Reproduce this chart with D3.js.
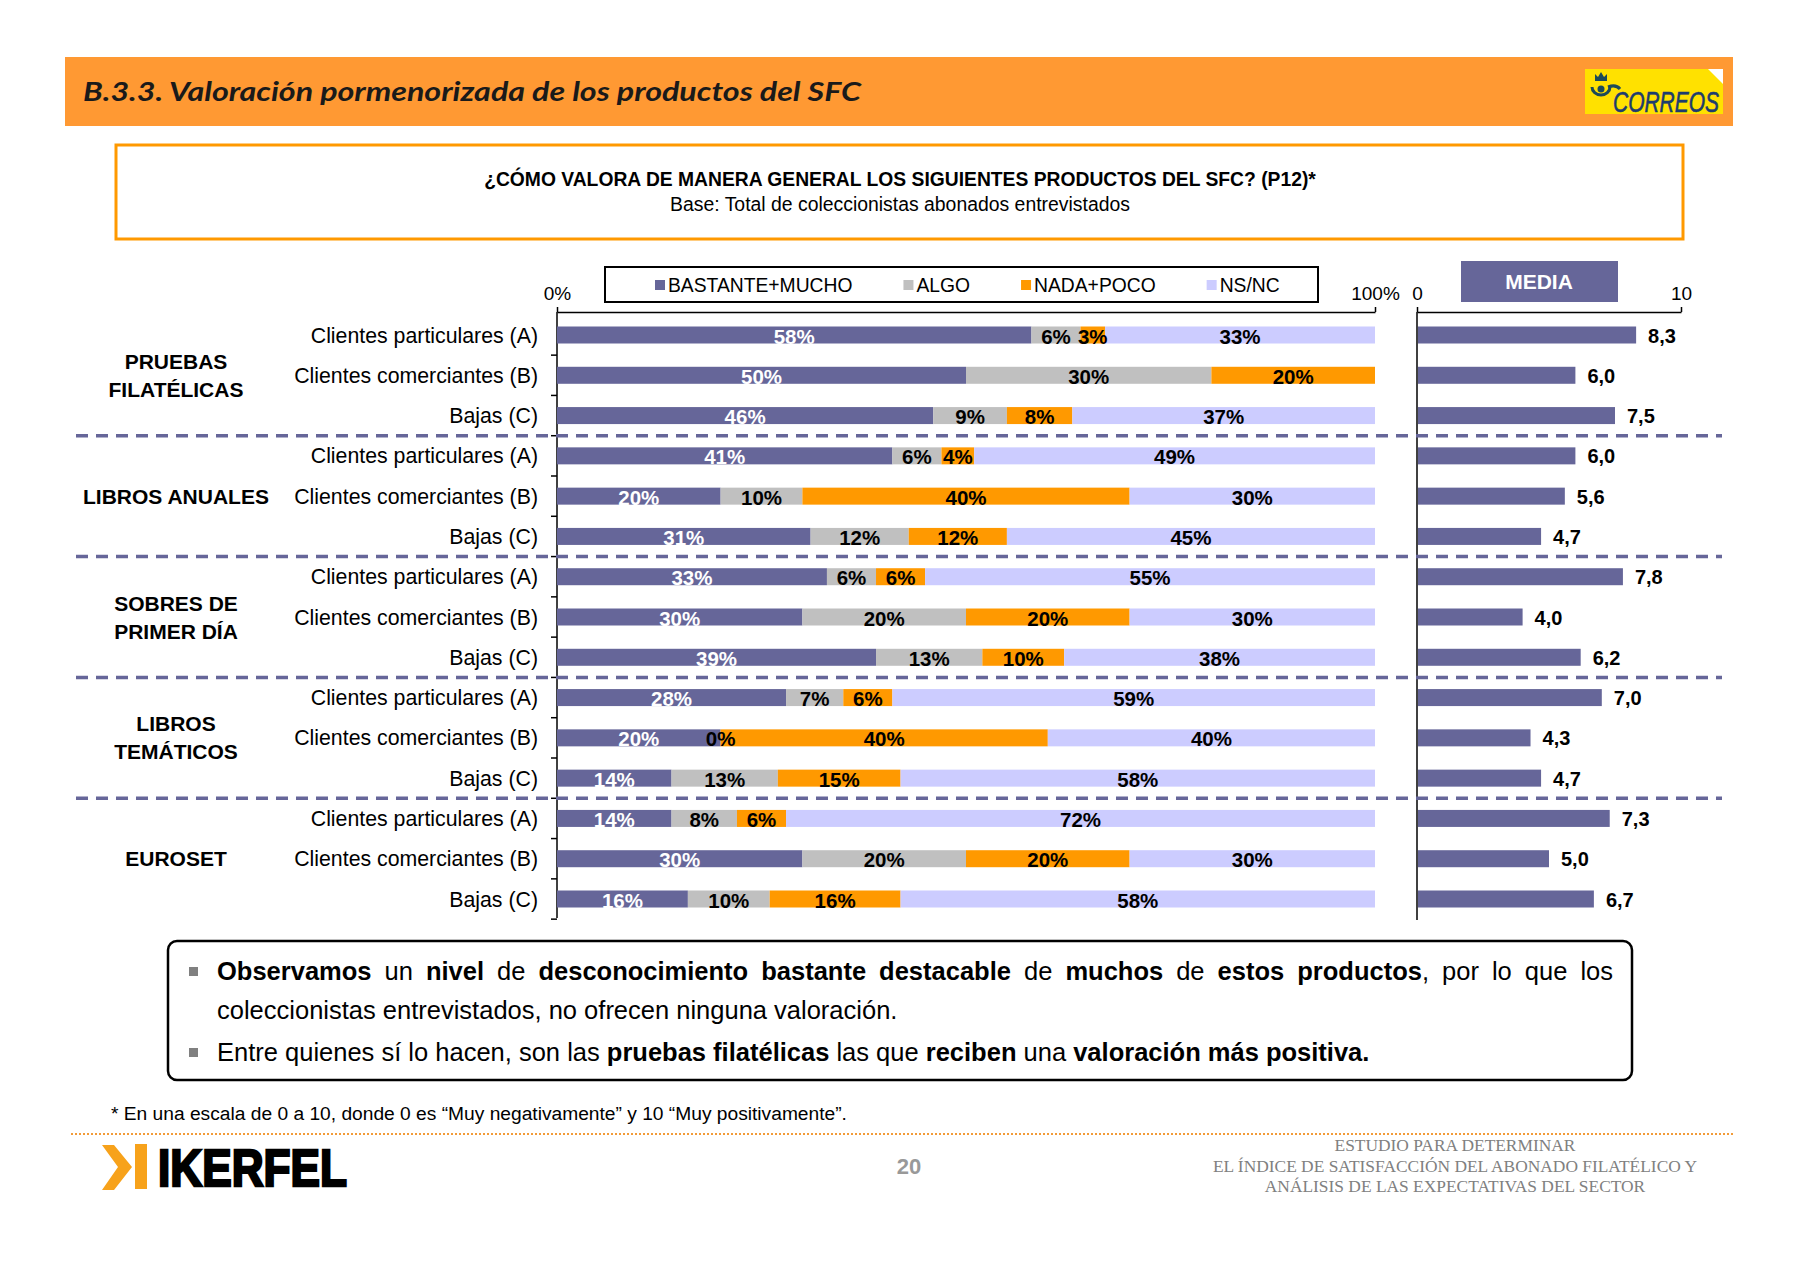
<!DOCTYPE html>
<html><head><meta charset="utf-8">
<script src="https://cdn.jsdelivr.net/npm/d3@7"></script>
<style>body{margin:0;background:#fff}svg{display:block}text{font-family:"Liberation Sans",Arial,sans-serif}</style>
</head><body><svg id="c" width="1800" height="1261"></svg>
<script>
// ---------- DATA ----------
const groupLines = [["PRUEBAS","FILATÉLICAS"],["LIBROS ANUALES"],["SOBRES DE","PRIMER DÍA"],["LIBROS","TEMÁTICOS"],["EUROSET"]];
const segments = ["Clientes particulares (A)","Clientes comerciantes (B)","Bajas (C)"];
const seriesNames = ["BASTANTE+MUCHO","ALGO","NADA+POCO","NS/NC"];
const bastanteMucho = [58,50,46,41,20,31,33,30,39,28,20,14,14,30,16];
const algo          = [ 6,30, 9, 6,10,12, 6,20,13, 7, 0,13, 8,20,10];
const nadaPoco      = [ 3,20, 8, 4,40,12, 6,20,10, 6,40,15, 6,20,16];
const nsnc          = [33, 0,37,49,30,45,55,30,38,59,40,58,72,30,58];
const media = [8.3,6.0,7.5,6.0,5.6,4.7,7.8,4.0,6.2,7.0,4.3,4.7,7.3,5.0,6.7];
const pctTicks = [0,100];
const mediaTicks = [0,10];
const colors = ["#666699","#C0C0C0","#FF9900","#CCCCFF"];

const svg = d3.select("#c");
const FONT = '"Liberation Sans",Arial,sans-serif';

// ---------- HEADER ----------
svg.append("rect").attr("x",65).attr("y",57).attr("width",1668).attr("height",69).attr("fill","#FF9933");
svg.append("text").attr("x",83).attr("y",101).attr("font-size",26).attr("font-weight","bold").attr("font-style","italic")
  .style("font-family","Lato,'DejaVu Sans',sans-serif").attr("fill","#1a1a1a")
  .attr("textLength",778).attr("lengthAdjust","spacingAndGlyphs")
  .text("B.3.3. Valoración pormenorizada de los productos del SFC");
// Correos logo
const cl = svg.append("g");
cl.append("rect").attr("x",1585).attr("y",69).attr("width",138).attr("height",45).attr("fill","#FFE100");
cl.append("path").attr("d","M1708,69 L1723,69 L1723,84 Z").attr("fill","#fff");
cl.append("path").attr("d","M1592,87 a9,8 0 1,0 18,0").attr("fill","none").attr("stroke","#1d4a5a").attr("stroke-width",3);
cl.append("circle").attr("cx",1601).attr("cy",89).attr("r",3.5).attr("fill","#1d4a5a");
cl.append("path").attr("d","M1595,81 L1595,74 L1598,77 L1601,72 L1604,77 L1607,74 L1607,81 Z").attr("fill","#1d4a5a");
cl.append("path").attr("d","M1608,87 q8,-3 12,2").attr("fill","none").attr("stroke","#1d4a5a").attr("stroke-width",3);
cl.append("text").attr("x",1613).attr("y",112).attr("font-size",29).attr("font-style","italic").attr("fill","#1d3c6e")
  .attr("stroke","#1d3c6e").attr("stroke-width",0.6)
  .attr("textLength",106).attr("lengthAdjust","spacingAndGlyphs").text("CORREOS");

// ---------- QUESTION BOX ----------
svg.append("rect").attr("x",116).attr("y",145).attr("width",1567).attr("height",94).attr("fill","#fff").attr("stroke","#FF9900").attr("stroke-width",3);
svg.append("text").attr("x",900).attr("y",186).attr("text-anchor","middle").attr("font-size",19.3).attr("font-weight","bold")
  .text("¿CÓMO VALORA DE MANERA GENERAL LOS SIGUIENTES PRODUCTOS DEL SFC? (P12)*");
svg.append("text").attr("x",900).attr("y",211).attr("text-anchor","middle").attr("font-size",19.4)
  .text("Base: Total de coleccionistas abonados entrevistados");

// ---------- SCALES ----------
const rows = [];
groupLines.forEach((g,gi)=>segments.forEach((s,si)=>rows.push({id:gi+"|"+si, g:gi, s:si, label:s})));
rows.forEach((r,i)=>{ r[seriesNames[0]]=bastanteMucho[i]; r[seriesNames[1]]=algo[i]; r[seriesNames[2]]=nadaPoco[i]; r[seriesNames[3]]=nsnc[i]; r.media=media[i]; });
const y = d3.scalePoint().domain(rows.map(r=>r.id)).range([335,899]);
const x = d3.scaleLinear().domain([0,100]).range([557,1375]);
const xm = d3.scaleLinear().domain([0,10]).range([1417,1681]);
const BH = 17;

// ---------- LEGEND ----------
svg.append("rect").attr("x",605).attr("y",267).attr("width",713).attr("height",35).attr("fill","#fff").attr("stroke","#000").attr("stroke-width",2);
let lx = 655;
seriesNames.forEach((n,i)=>{
  svg.append("rect").attr("x",lx).attr("y",280).attr("width",10).attr("height",10).attr("fill",colors[i]);
  const t = svg.append("text").attr("x",lx+13).attr("y",292).attr("font-size",19.3).text(n);
  lx += 13 + t.node().getComputedTextLength() + 51;
});

// MEDIA box
svg.append("rect").attr("x",1461).attr("y",261).attr("width",157).attr("height",41).attr("fill","#666699");
svg.append("text").attr("x",1539).attr("y",289).attr("text-anchor","middle").attr("font-size",21).attr("font-weight","bold").attr("fill","#fff").text("MEDIA");

// ---------- AXES ----------
const axTop = svg.append("g").attr("transform","translate(0,312)")
  .call(d3.axisTop(x).tickValues(pctTicks).tickFormat(d=>d+"%").tickSize(5).tickSizeOuter(0).tickPadding(7));
const axM = svg.append("g").attr("transform","translate(0,312)")
  .call(d3.axisTop(xm).tickValues(mediaTicks).tickFormat(d=>d).tickSize(5).tickSizeOuter(0).tickPadding(7));
[axTop,axM].forEach(a=>{ a.selectAll("text").attr("font-size",19).attr("fill","#000").style("font-family",FONT);
  a.select(".domain").attr("stroke","#000").attr("stroke-width",1.5); a.selectAll(".tick line").attr("stroke","#000").attr("stroke-width",1.5); });

// vertical axis lines
svg.append("line").attr("x1",557).attr("x2",557).attr("y1",312).attr("y2",918).attr("stroke","#000").attr("stroke-width",1.5);
svg.append("line").attr("x1",1417).attr("x2",1417).attr("y1",312).attr("y2",920).attr("stroke","#000").attr("stroke-width",1.5);
const ids = y.domain();
const bounds = ids.slice(1).map((id,i)=>(y(ids[i])+y(id))/2);
bounds.push(y(ids[ids.length-1])+y.step()/2);
svg.selectAll(".ytick").data(bounds).join("line").attr("x1",551).attr("x2",557).attr("y1",d=>d).attr("y2",d=>d).attr("stroke","#000").attr("stroke-width",1.5);

// ---------- STACKED BARS ----------
const stack = d3.stack().keys(seriesNames)(rows);
const gBars = svg.append("g");
stack.forEach((layer,li)=>{
  gBars.selectAll(null).data(layer).join("rect")
    .attr("x",d=>x(d[0])).attr("width",d=>x(d[1])-x(d[0]))
    .attr("y",d=>y(d.data.id)-BH/2).attr("height",BH).attr("fill",colors[li]);
});
stack.forEach((layer,li)=>{
  gBars.selectAll(null).data(layer.filter(d=>!(d[1]-d[0]===0 && d[1]===100))).join("text")
    .attr("x",d=>x((d[0]+d[1])/2)).attr("y",d=>y(d.data.id)+8.5)
    .attr("text-anchor","middle").attr("font-size",20.5).attr("font-weight","bold")
    .attr("fill",li===0?"#fff":"#000").text(d=>(d[1]-d[0])+"%");
});

// ---------- MEDIA BARS ----------
svg.selectAll(".mbar").data(rows).join("rect")
  .attr("x",xm(0)+1).attr("width",d=>xm(d.media)-xm(0)-1).attr("y",d=>y(d.id)-BH/2).attr("height",BH).attr("fill","#666699");
svg.selectAll(".mlab").data(rows).join("text")
  .attr("x",d=>xm(d.media)+12).attr("y",d=>y(d.id)+7.5).attr("font-size",20).attr("font-weight","bold")
  .text(d=>d3.format(".1f")(d.media).replace(".",","));

// ---------- ROW & GROUP LABELS ----------
svg.selectAll(".rlab").data(rows).join("text")
  .attr("x",538).attr("y",d=>y(d.id)+7.5).attr("text-anchor","end").attr("font-size",21.3).text(d=>d.label);
groupLines.forEach((lines,gi)=>{
  const cy = y(gi+"|1");
  const off = lines.length===1?[0]:[-14,14];
  lines.forEach((l,k)=>svg.append("text").attr("x",176).attr("y",cy+off[k]+7.5).attr("text-anchor","middle")
    .attr("font-size",21).attr("font-weight","bold").text(l));
});

// dashed separators
const seps = groupLines.slice(1).map((g,gi)=>(y(gi+"|2")+y((gi+1)+"|0"))/2);
svg.selectAll(".sep").data(seps).join("line").attr("x1",76).attr("x2",1722).attr("y1",d=>d).attr("y2",d=>d)
  .attr("stroke","#666699").attr("stroke-width",3.5).attr("stroke-dasharray","12,8");

// ---------- COMMENT BOX ----------
svg.append("rect").attr("x",168).attr("y",941).attr("width",1464).attr("height",139).attr("rx",9)
  .attr("fill","#fff").attr("stroke","#000").attr("stroke-width",2.5);
[971,1052].forEach(cy=>svg.append("rect").attr("x",189).attr("y",cy-4).attr("width",9).attr("height",9).attr("fill","#808080"));
const FS=25.5;
function mk(parts,yy){
  const t = svg.append("text").attr("y",yy).attr("font-size",FS).style("white-space","pre");
  parts.forEach(p=>t.append("tspan").attr("font-weight",p[1]?"bold":"normal").text(p[0]));
  return t;
}
const line1 = [[["Observamos",1]],[["un",0]],[["nivel",1]],[["de",0]],[["desconocimiento",1]],[["bastante",1]],[["destacable",1]],
  [["de",0]],[["muchos",1]],[["de",0]],[["estos",1]],[["productos",1],[",",0]],[["por",0]],[["lo",0]],[["que",0]],[["los",0]]];
const nodes = line1.map(w=>mk(w,980));
const widths = nodes.map(n=>n.node().getComputedTextLength());
const gap = (1613-217-d3.sum(widths))/(nodes.length-1);
let wx=217; nodes.forEach((n,i)=>{n.attr("x",wx); wx+=widths[i]+gap;});
mk([["coleccionistas entrevistados, no ofrecen ninguna valoración.",0]],1019).attr("x",217);
mk([["Entre quienes sí lo hacen, son las ",0],["pruebas filatélicas",1],[" las que ",0],["reciben",1],[" una ",0],["valoración más positiva.",1]],1061).attr("x",217);

svg.append("text").attr("x",111).attr("y",1120).attr("font-size",19.2)
  .text("* En una escala de 0 a 10, donde 0 es “Muy negativamente” y 10 “Muy positivamente”.");

// ---------- FOOTER ----------
svg.append("line").attr("x1",71).attr("x2",1733).attr("y1",1134).attr("y2",1134).attr("stroke","#F29B38").attr("stroke-width",2).attr("stroke-dasharray","2,2");
svg.append("path").attr("d","M102,1145 L114,1145 L132,1167 L114,1190 L102,1190 L118,1167 Z").attr("fill","#F7A21B");
svg.append("rect").attr("x",135).attr("y",1144).attr("width",12).attr("height",45).attr("fill","#F7A21B");
svg.append("text").attr("x",158).attr("y",1186).attr("font-size",52).attr("font-weight",900).attr("fill","#000")
  .attr("stroke","#000").attr("stroke-width",2.5).attr("stroke-linejoin","miter")
  .attr("textLength",189).attr("lengthAdjust","spacingAndGlyphs").text("IKERFEL");
svg.append("text").attr("x",909).attr("y",1174).attr("text-anchor","middle").attr("font-size",22).attr("font-weight","bold").attr("fill","#999").text("20");
["ESTUDIO PARA DETERMINAR","EL ÍNDICE DE SATISFACCIÓN DEL ABONADO FILATÉLICO Y","ANÁLISIS DE LAS EXPECTATIVAS DEL SECTOR"].forEach((t,i)=>
  svg.append("text").attr("x",1455).attr("y",1151+i*20.5).attr("text-anchor","middle").attr("font-size",17.4)
    .style("font-family","'Liberation Serif','DejaVu Serif',serif").attr("fill","#808080").text(t));
</script></body></html>
